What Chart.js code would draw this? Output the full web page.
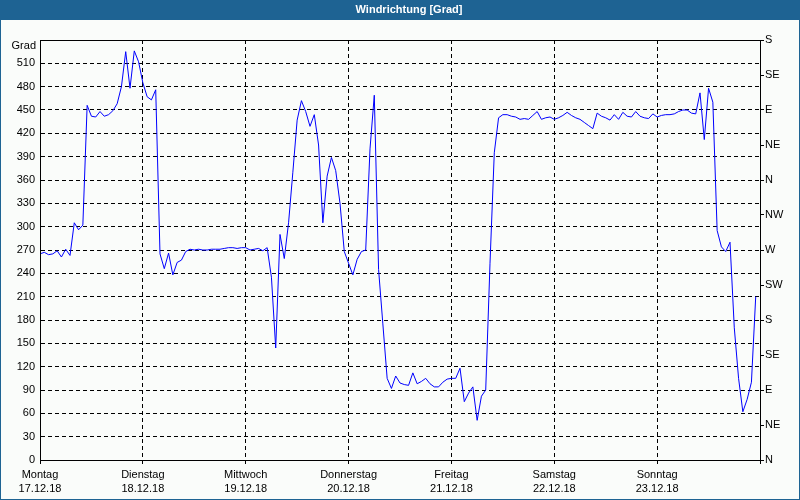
<!DOCTYPE html>
<html>
<head>
<meta charset="utf-8">
<script src="https://cdn.jsdelivr.net/npm/chart.js@4"></script>
<style>
html,body{margin:0;padding:0;background:#fafcfa;}
#wrap{width:800px;height:500px;}
</style>
</head>
<body>
<div id="wrap"><canvas id="c" width="800" height="500"></canvas></div>
<script>
const TITEL = 'Windrichtung [Grad]';
const TAGE = ['Montag','Dienstag','Mittwoch','Donnerstag','Freitag','Samstag','Sonntag'];
const DATEN = ['17.12.18','18.12.18','19.12.18','20.12.18','21.12.18','22.12.18','23.12.18'];
const RICHTUNG = ['N','NE','E','SE','S','SW','W','NW','N','NE','E','SE','S'];

// Windrichtung in Grad, stündlich ab Montag 0 Uhr
const GRAD = [
  265,267,264,265,269,261,271,263,305,296,302,456,
  442,441,448,442,444,449,458,480,525,478,526,512,
  485,467,463,476,265,246,266,238,254,257,268,271,
  270,271,270,270,271,271,271,272,273,273,272,273,
  273,270,271,272,269,273,235,144,290,259,305,370,
  437,462,448,429,444,405,305,365,389,372,330,268,
  253,238,258,268,270,400,469,245,175,105,92,108,
  99,97,96,112,98,101,105,98,94,94,100,104,
  105,105,118,75,86,94,51,82,90,253,395,440,
  444,444,442,441,438,439,438,443,448,438,440,441,
  438,440,443,447,443,440,438,434,430,426,446,442,
  440,437,444,438,447,442,441,448,442,440,439,445,
  441,443,444,444,445,448,450,450,446,445,472,412,
  478,460,295,274,268,280,170,105,62,78,100,210
];

const FONT = {family:'"Liberation Sans", Arial, sans-serif', size:11};
const BLAU = '#1e6393';

const rahmen = {
  id:'rahmen',
  beforeDraw(chart) {
    const ctx = chart.ctx;
    ctx.save();
    ctx.fillStyle = '#fafcfa';
    ctx.fillRect(0,0,800,500);
    ctx.fillStyle = BLAU;
    ctx.fillRect(0,0,800,20);
    ctx.restore();
  },
  afterDraw(chart) {
    const ctx = chart.ctx, a = chart.chartArea;
    ctx.save();
    ctx.strokeStyle = '#000';
    ctx.lineWidth = 1;
    ctx.strokeRect(Math.round(a.left)+0.5, Math.round(a.top)+0.5, Math.round(a.right-a.left), Math.round(a.bottom-a.top));
    ctx.fillStyle = '#000';
    ctx.font = '11px ' + FONT.family;
    ctx.textAlign = 'right';
    ctx.textBaseline = 'middle';
    ctx.fillText('Grad', 36, 46);
    ctx.fillStyle = '#fff';
    ctx.font = 'bold 11px ' + FONT.family;
    ctx.textAlign = 'center';
    ctx.fillText(TITEL, 409, 10);
    ctx.strokeStyle = BLAU;
    ctx.strokeRect(0.5,0.5,799,499);
    ctx.restore();
  }
};

new Chart(document.getElementById('c'), {
  type:'line',
  data:{
    datasets:[{
      data: GRAD.map((v,i) => ({x:i, y:v})),
      borderColor:'#0000ff', borderWidth:1, pointRadius:0, tension:0, fill:false
    }]
  },
  options:{
    responsive:false, animation:false, devicePixelRatio:1,
    layout:{padding:{top:40,left:0,right:0,bottom:0}},
    plugins:{legend:{display:false}, tooltip:{enabled:false}, title:{display:false}},
    scales:{
      x:{
        type:'linear', min:0, max:168,
        afterFit: s => { s.height = 40; },
        ticks:{stepSize:24, autoSkip:false, maxRotation:0, color:'#000', padding:4,
          font:{...FONT, lineHeight:'14px'},
          callback: v => v < 168 ? [TAGE[v/24], DATEN[v/24]] : ''},
        grid:{color:'#000', drawTicks:true, tickLength:4},
        border:{color:'#000', dash:[4,3]}
      },
      y:{
        position:'left', min:0, max:540,
        afterFit: s => { s.width = 40; },
        ticks:{stepSize:30, color:'#000', padding:5, font:FONT,
          callback: v => v < 540 ? String(v) : ''},
        grid:{color:'#000', drawTicks:false},
        border:{color:'#000', dash:[4,3]}
      },
      y2:{
        position:'right', min:0, max:540,
        afterFit: s => { s.width = 40; },
        ticks:{stepSize:45, color:'#000', padding:1, font:FONT,
          callback: v => RICHTUNG[v/45]},
        grid:{color:'#000', drawOnChartArea:false, drawTicks:true, tickLength:4},
        border:{color:'#000'}
      }
    }
  },
  plugins:[rahmen]
});
</script>
</body>
</html>
